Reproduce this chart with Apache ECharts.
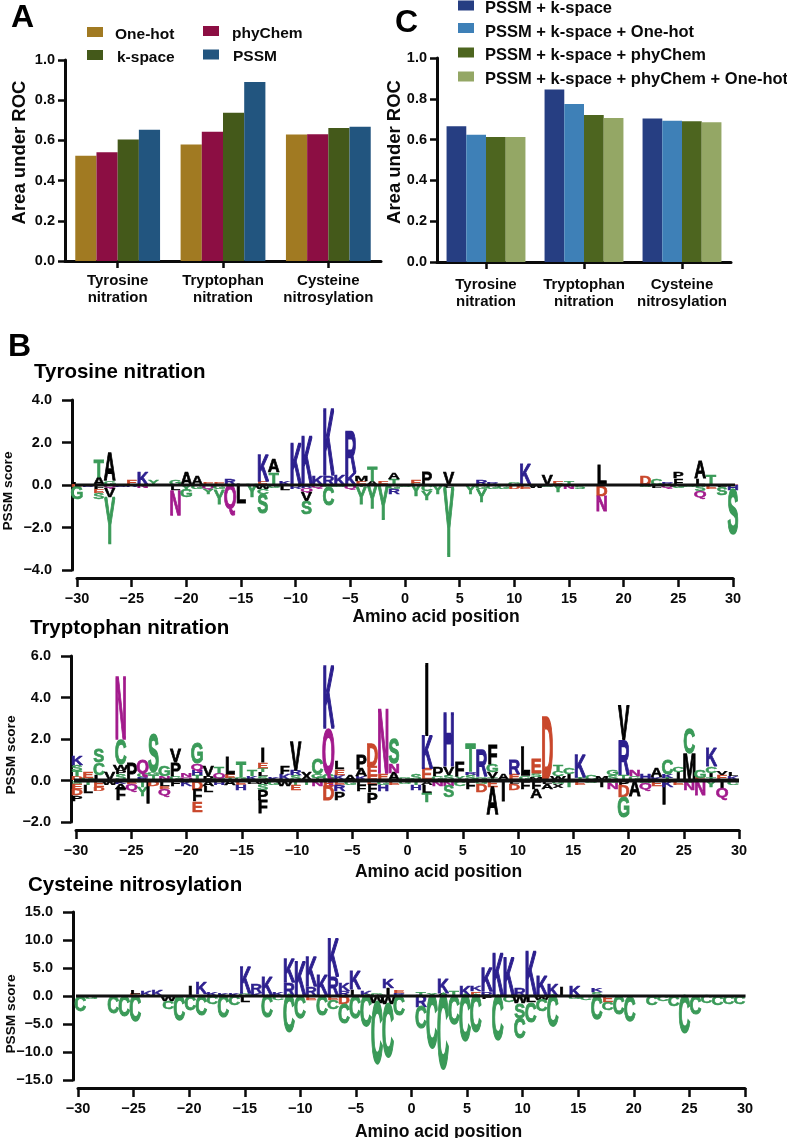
<!DOCTYPE html>
<html><head><meta charset="utf-8">
<style>html,body{margin:0;padding:0;background:#fff}#c{width:787px;height:1138px}</style>
<script src="https://cdn.jsdelivr.net/npm/echarts@6/dist/echarts.min.js"></script>
</head><body><div id="c"></div>
<script>
// ---------- Bar panels ----------
const rocCategories = ['Tyrosine\nnitration', 'Tryptophan\nnitration', 'Cysteine\nnitrosylation'];
const oneHot = [0.524, 0.579, 0.629];
const phyChem = [0.541, 0.643, 0.630];
const kSpace = [0.604, 0.738, 0.662];
const pssm = [0.653, 0.891, 0.668];
const pssmK = [0.665, 0.845, 0.704];
const pssmKOne = [0.624, 0.775, 0.693];
const pssmKPhy = [0.613, 0.720, 0.690];
const pssmKPhyOne = [0.613, 0.706, 0.685];

// ---------- Sequence logos: [position, letter, height in score units], listed outward from zero ----------
const tyrUp = [
[-30,'L',.1],[-29,'E',.07],[-28,'A',.35],[-28,'T',.78],[-27,'G',.2],[-27,'A',1.33],[-26,'E',.08],[-25,'E',.25],[-24,'K',.6],[-23,'Y',.25],[-22,'D',.05],
[-21,'G',.22],[-20,'A',.6],[-19,'A',.42],[-18,'E',.1],[-17,'E',.12],[-16,'R',.32],[-15,'E',.05],[-14,'R',.08],[-13,'E',.15],[-13,'K',1.25],[-12,'T',.58],[-12,'A',.62],
[-11,'K',.2],[-10,'K',1.95],[-9,'K',2.25],[-8,'K',.4],[-7,'R',.4],[-7,'K',3.1],[-6,'K',.5],[-5,'K',.55],[-5,'R',1.96],[-4,'E',.18],[-4,'M',.25],[-3,'A',.15],[-3,'T',.7],
[-2,'E',.2],[-1,'T',.28],[-1,'A',.3],[0,'E',.05],[1,'E',.22],[2,'P',.64],[4,'V',.6],[5,'E',.06],[6,'E',.06],[7,'R',.25],[8,'R',.12],[9,'G',.08],[10,'G',.1],
[11,'K',.97],[12,'G',.06],[13,'V',.52],[14,'E',.2],[15,'T',.15],[16,'E',.05],[18,'L',.92],[19,'E',.05],[20,'E',.05],[21,'G',.05],[22,'D',.42],[23,'C',.3],[24,'R',.1],
[25,'F',.3],[25,'P',.28],[27,'L',.3],[27,'A',.8],[28,'T',.48],[29,'E',.06],[30,'E',.05]];
const tyrDown = [
[-30,'D',.1],[-30,'G',.6],[-29,'R',.08],[-28,'F',.2],[-28,'E',.2],[-28,'S',.28],[-27,'Q',.15],[-27,'V',.45],[-27,'Y',2.2],[-26,'R',.08],[-25,'R',.1],[-24,'N',.15],
[-23,'G',.06],[-22,'G',.06],[-21,'L',.25],[-21,'N',1.18],[-20,'Y',.25],[-20,'G',.35],[-19,'G',.2],[-18,'Q',.2],[-18,'Y',.25],[-17,'G',.2],[-17,'Y',.7],[-16,'Q',1.1],
[-15,'L',.9],[-14,'Y',.6],[-13,'W',.2],[-13,'C',.25],[-13,'S',.9],[-12,'G',.15],[-11,'L',.22],[-10,'R',.2],[-9,'R',.15],[-9,'Q',.18],[-9,'V',.42],[-9,'S',.62],[-8,'Q',.15],
[-7,'G',.1],[-7,'C',.85],[-6,'G',.1],[-5,'Q',.2],[-4,'T',.12],[-4,'Y',.8],[-3,'Y',1.1],[-2,'Y',1.65],[-1,'G',.2],[-1,'R',.25],[0,'G',.1],[1,'Y',.55],[2,'C',.3],[2,'Y',.42],[3,'Y',.45],
[4,'L',.15],[4,'Y',3.25],[5,'E',.06],[6,'Y',.45],[7,'G',.2],[7,'Y',.62],[8,'G',.2],[9,'G',.2],[10,'D',.2],[11,'E',.2],[12,'W',.15],[13,'G',.1],[14,'Y',.35],[15,'N',.2],[16,'S',.2],
[17,'G',.05],[18,'D',.52],[18,'N',.75],[19,'E',.05],[20,'E',.05],[21,'G',.06],[22,'G',.1],[23,'L',.15],[24,'Q',.15],[25,'G',.15],[26,'G',.1],[27,'S',.3],[27,'Q',.28],[28,'E',.2],
[29,'L',.1],[29,'S',.38],[30,'H',.22],[30,'S',2.1]];

// Small letters nearest the zero line under the tall Tryptophan columns
const trpBaseUp = [[-26,'S',.3],[-7,'G',.3],[20,'T',.25],[4,'S',.25],[-19,'T',.25],[-23,'T',.25],[-10,'S',.25],[-13,'S',.2],[-21,'G',.2],[-16,'T',.1],[-8,'T',.1],[6,'S',.25],[8,'T',.1],[11,'G',.2],[16,'T',.15],[24,'T',.1],[28,'T',.15]];
const trpUp = [
[-30,'D',.2],[-30,'T',.25],[-30,'S',.3],[-30,'K',.45],[-29,'G',.12],[-29,'E',.33],[-28,'L',.25],[-28,'C',.6],[-28,'S',.65],[-27,'V',.38],[-26,'P',.2],[-26,'W',.25],[-26,'C',1.2],[-26,'N',3],
[-25,'P',.8],[-24,'R',.15],[-24,'C',.2],[-24,'Q',.65],[-23,'G',.15],[-23,'S',1.8],[-22,'N',.2],[-22,'G',.5],[-21,'P',.65],[-21,'V',.65],[-20,'Q',.15],[-20,'N',.2],[-19,'H',.25],[-19,'Q',.3],[-19,'G',1],
[-18,'P',.2],[-18,'V',.48],[-17,'G',.12],[-17,'Q',.25],[-17,'T',.3],[-16,'E',.2],[-16,'L',.8],[-15,'G',.15],[-15,'T',.75],[-14,'K',.2],[-14,'T',.3],[-13,'L',.2],[-13,'T',.2],[-13,'E',.28],[-13,'I',.72],
[-12,'K',.15],[-11,'K',.3],[-11,'F',.35],[-10,'R',.22],[-10,'V',1.37],[-9,'X',.4],[-8,'G',.2],[-8,'C',.78],[-7,'Q',2.15],[-7,'K',3],[-6,'K',.25],[-6,'E',.28],[-6,'L',.38],[-5,'A',.25],[-4,'K',.2],[-4,'A',.35],[-4,'P',.7],
[-3,'E',.2],[-3,'E',.48],[-3,'D',1.1],[-2,'E',.3],[-2,'N',3.05],[-1,'A',.35],[-1,'N',.45],[-1,'S',1.2],[0,'G',.12],[1,'S',.3],[2,'E',.55],[2,'K',1.57],[2,'I',3.45],
[3,'G',.2],[3,'P',.43],[4,'V',.4],[4,'H',2.57],[5,'Y',.2],[5,'F',.7],[6,'R',.15],[6,'T',1.33],[7,'G',.15],[7,'R',1.25],[8,'V',.3],[8,'G',.35],[8,'F',.96],[9,'A',.3],[10,'E',.3],[10,'R',.7],[11,'L',1.38],
[12,'M',.15],[12,'S',.2],[12,'E',.67],[13,'D',3],[14,'W',.2],[14,'C',.25],[14,'T',.3],[15,'I',.3],[15,'C',.3],[16,'K',1.1],[17,'C',.25],[18,'M',.2],[19,'S',.25],[19,'G',.25],[20,'R',1.68],[20,'V',1.65],
[21,'G',.2],[21,'N',.32],[22,'H',.3],[23,'K',.15],[23,'A',.43],[24,'K',.2],[24,'C',.72],[25,'I',.4],[25,'C',.27],[26,'M',1.3],[26,'C',1.23],[27,'E',.12],[27,'G',.37],[28,'I',.2],[28,'C',.3],[28,'K',.88],
[29,'E',.25],[29,'V',.2],[30,'K',.2],[30,'L',.2]];
const trpDown = [
[-30,'S',.15],[-30,'E',.25],[-30,'D',.3],[-30,'P',.28],[-29,'T',.2],[-29,'L',.4],[-28,'E',.3],[-28,'D',.2],[-27,'W',.2],[-26,'K',.15],[-26,'A',.27],[-26,'F',.55],[-25,'E',.15],[-25,'Q',.3],
[-24,'T',.3],[-24,'Y',.45],[-23.5,'I',1.1],[-23,'D',.27],[-22,'L',.25],[-22,'E',.15],[-22,'Q',.3],[-21,'F',.27],[-20,'K',.27],[-19,'D',.45],[-19,'F',.55],[-19,'E',.53],[-18,'A',.27],[-18,'L',.3],
[-17,'H',.2],[-16,'A',.22],[-15,'E',.2],[-15,'H',.27],[-14,'L',.15],[-13,'W',.15],[-13,'S',.3],[-13,'P',.5],[-13,'F',.65],[-12,'G',.2],[-11,'W',.27],[-10,'T',.2],[-10,'E',.25],[-9,'T',.2],[-8,'N',.25],
[-7,'E',.27],[-7,'D',.7],[-6,'E',.2],[-6,'R',.33],[-6,'P',.4],[-5,'G',.2],[-4,'L',.2],[-4,'F',.3],[-3,'E',.2],[-3,'F',.35],[-3,'P',.53],[-2,'G',.2],[-2,'H',.3],[-1,'E',.2],[0,'G',.15],
[1,'T',.2],[1,'H',.27],[2,'A',.2],[2,'L',.4],[2,'T',.43],[3,'N',.27],[4,'N',.25],[4,'S',.55],[5,'C',.28],[6,'F',.4],[7,'G',.15],[7,'D',.4],[8,'E',.3],[8,'A',1.35],[9,'I',1],[10,'L',.15],[10,'D',.32],
[11,'F',.4],[12,'F',.4],[12,'A',.45],[13,'L',.15],[13,'A',.27],[14,'G',.15],[14,'X',.2],[15,'T',.3],[16,'E',.2],[17,'G',.12],[18,'I',.3],[19,'G',.12],[19,'N',.3],[20,'P',.25],[20,'D',.55],[20,'G',1],
[21,'A',.78],[22,'G',.12],[22,'Q',.3],[23,'E',.25],[23.7,'I',1.15],[24,'K',.3],[25,'E',.2],[26,'S',.12],[26,'N',.35],[27,'N',.72],[28,'Y',.3],[29,'I',.4],[29,'Q',.43],[30,'C',.2]];

const cysUp = [
[-25,'E',.4],[-25,'L',.7],[-24,'K',1],[-23,'K',1.2],[-22,'R',.3],[-20,'I',1.9],[-19,'G',.3],[-19,'K',2],[-18,'K',.7],[-17,'K',.5],[-16,'K',.5],[-15,'G',.4],[-15,'K',4.8],[-14,'K',.5],[-14,'R',1.6],[-13,'K',3.3],
[-12,'K',.7],[-11,'R',2.4],[-11,'K',4.2],[-10,'K',6.1],[-9,'R',1.6],[-9,'K',5.5],[-8,'K',3.7],[-7,'R',3.4],[-7,'K',6.8],[-6,'R',.9],[-6,'K',1.4],[-5,'L',1.1],[-5,'K',3.4],[-4,'K',.9],[-3,'G',.4],[-2,'I',1.4],[-2,'K',1.7],[-1,'R',.5],[-1,'E',.5],
[1,'T',.8],[2,'Y',.5],[3,'A',.5],[3,'K',2.5],[4,'T',1],[5,'K',1.8],[6,'E',.8],[6,'K',.9],[7,'R',.7],[7,'K',4.3],[8,'K',7.5],[9,'K',6.8],[10,'R',1.3],[11,'K',7.8],[12,'K',3.5],[13,'K',2],[13.8,'I',1.6],
[15,'K',1.9],[17,'S',.7],[17,'K',.8],[18,'E',.3],[28,'R',.3]];
const cysDown = [
[-30,'C',2.8],[-29,'G',.5],[-27,'C',3.1],[-26,'C',3.7],[-25,'C',4.7],[-22,'W',.9],[-22,'C',1.5],[-21,'C',4.4],[-20,'C',2.5],[-19,'C',3.5],[-18,'C',1.5],[-17,'C',3.9],[-16,'C',1.6],[-15,'L',1.2],
[-13,'C',3.9],[-12,'C',.8],[-11,'C',6.5],[-10,'C',4.1],[-9,'E',.8],[-8,'C',3.6],[-7,'E',.8],[-7,'C',1.6],[-6,'D',1.5],[-6,'C',3.5],[-5,'C',4],[-4,'C',5.6],[-3,'W',1.3],[-3,'C',10.8],[-2,'W',1.5],[-2,'C',9.5],[-1,'C',3.6],
[1,'R',2],[1,'C',3.9],[2,'C',9.4],[3,'C',13.2],[4,'C',5.2],[5,'C',8.2],[6,'C',6.5],[7,'F',.6],[8,'C',8],[9,'C',1.1],[10,'W',1.3],[10,'S',2.7],[10,'C',3.7],[11,'L',1.1],[11,'C',3.6],[12,'W',.8],[12,'C',2],[13,'C',5.6],
[15,'G',.5],[16,'C',.8],[17,'C',4.2],[18,'E',1.1],[18,'C',1.5],[19,'C',3.3],[20,'C',4.6],[22,'C',1.7],[23,'C',1],[24,'C',1.9],[25,'C',6.6],[26,'C',3.3],[27,'C',1.3],[28,'C',1.7],[29,'C',1.5],[30,'C',1.5]];

// Zero lines run slightly past the x axis ends
const zeroTyr = [[-30.45,0],[30.55,0]];
const zeroTrp = [[-30.37,0],[30.55,0]];
const zeroCys = [[-30.75,0],[30.55,0]];

const FONT = '"Liberation Sans", Arial, sans-serif';
const INK = '#0a0a0a';
const letterColor = l => 'KRH'.includes(l) ? '#2c1f8e' : 'DE'.includes(l) ? '#c9472b' : 'NQ'.includes(l) ? '#a21a8c' : 'GSTYC'.includes(l) ? '#3a9a58' : '#000';

function stackRows(items, sign) {
  const tops = {}, rows = [];
  items.forEach(([p, l, h]) => {
    const a = tops[p] || 0, b = a + h;
    tops[p] = b;
    rows.push({ value: [p, sign * a, sign * b], letter: l });
  });
  return rows;
}
const GLYPH_PX = 100, CAP = 0.716, X_SCALE = 0.165, Y_NUDGE = 0.08;
function logoSeries(name, up, down, xi, yi, zero, zeroWidth) {
  const make = (arr, sign, suffix) => {
    const rows = stackRows(arr, sign);
    return {
      type: 'custom', name: name + suffix, xAxisIndex: xi, yAxisIndex: yi, z: 2, silent: true,
      encode: { x: 0, y: [1, 2] }, data: rows,
      renderItem(params, api) {
        const a = api.coord([api.value(0), api.value(1)]);
        const b = api.coord([api.value(0), api.value(2)]);
        const h = Math.abs(b[1] - a[1]);
        const letter = rows[params.dataIndex].letter;
        const col = letterColor(letter);
        return {
          type: 'text', x: a[0], y: (a[1] + b[1]) / 2 + h * Y_NUDGE,
          scaleX: X_SCALE, scaleY: h / (GLYPH_PX * CAP),
          style: { text: letter, font: 'bold ' + GLYPH_PX + 'px ' + FONT, fill: col, stroke: col, lineWidth: 4, align: 'center', verticalAlign: 'middle' }
        };
      }
    };
  };
  return [make(up, 1, ' up'), make(down, -1, ' down'),
    { type: 'line', name: name + ' zero', xAxisIndex: xi, yAxisIndex: yi, z: 3, clip: false, silent: true, symbol: 'none', data: zero, lineStyle: { color: '#111', width: zeroWidth } }];
}
const minus = v => String(v).replace('-', '\u2212');
const axisStyle = { lineStyle: { color: INK, width: 3 } };
const tickStyle = (len) => ({ show: true, length: len, lineStyle: { color: INK, width: 2.5 } });
const lbl = (size, extra) => Object.assign({ color: INK, fontFamily: FONT, fontWeight: 'bold', fontSize: size }, extra || {});

function barX(grid, margin) {
  return { type: 'category', gridIndex: grid, data: rocCategories, axisLine: Object.assign({ onZero: false }, axisStyle), axisTick: Object.assign(tickStyle(7), { alignWithLabel: true }),
    axisLabel: lbl(15, { lineHeight: 16.5, margin, interval: 0 }) };
}
function barY(grid, gap) {
  return { type: 'value', gridIndex: grid, min: 0, max: 1, interval: 0.2, splitLine: { show: false }, axisLine: Object.assign({ show: true, onZero: false }, axisStyle), axisTick: tickStyle(7),
    axisLabel: lbl(14.5, { margin: 10, formatter: v => v.toFixed(1) }),
    name: 'Area under ROC', nameLocation: 'middle', nameGap: gap, nameMoveOverlap: false, nameTextStyle: lbl(18.5, { padding: [0, 0, 0, 16] }) };
}
function logoX(grid, nameShift, gap) {
  return { type: 'value', gridIndex: grid, min: -30, max: 30, interval: 5, offset: 8, splitLine: { show: false }, axisLine: Object.assign({ onZero: false }, axisStyle), axisTick: tickStyle(9),
    axisLabel: lbl(14.5, { margin: 13, formatter: minus, showMinLabel: true, showMaxLabel: true }),
    name: 'Amino acid position', nameLocation: 'middle', nameGap: gap, nameMoveOverlap: false, nameTextStyle: lbl(17.5, { padding: [0, 0, 0, nameShift] }) };
}
function logoHidden(grid, min, max) {
  return { type: 'value', gridIndex: grid, min, max, show: false, splitLine: { show: false } };
}
function logoY(grid, min, max, interval, shift, gap) {
  return { type: 'value', gridIndex: grid, min, max, interval, offset: 5, splitLine: { show: false }, axisLine: Object.assign({ show: true, onZero: false }, axisStyle), axisTick: tickStyle(10),
    axisLabel: lbl(14.5, { margin: 20, formatter: v => minus(v.toFixed(1)), showMinLabel: true, showMaxLabel: true }),
    name: 'PSSM score', nameLocation: 'middle', nameGap: gap, nameMoveOverlap: false, nameTextStyle: lbl(13.7, { padding: shift }) };
}
function bar(name, data, color, xi, yi) {
  return { type: 'bar', name, data, xAxisIndex: xi, yAxisIndex: yi, barGap: 0, barCategoryGap: '19.5%', itemStyle: { color }, silent: true };
}
function leg(name, left, top, size, pad, topPad) {
  return { data: [name], left, top, orient: 'horizontal', padding: 0, itemWidth: 16, itemHeight: 10, icon: 'rect', selectedMode: false,
    formatter: '{a|{name}}', textStyle: lbl(size, { rich: { a: lbl(size, { padding: [topPad, 0, 0, pad] }) } }) };
}
function ttl(text, left, top, size) {
  return { text, left, top, padding: 0, textStyle: lbl(size, { color: '#000' }) };
}
const gridBox = (left, top, width, height) => ({ left, top, width, height, containLabel: false, outerBoundsMode: 'none' });

const option = {
  backgroundColor: '#fff', animation: false,
  title: [
    ttl('A', 11, 2, 32), ttl('C', 395, 7, 32), ttl('B', 8, 331, 32),
    ttl('Tyrosine nitration', 34, 362, 20.5), ttl('Tryptophan nitration', 30, 618, 20.5), ttl('Cysteine nitrosylation', 28, 875, 20.5)
  ],
  legend: [
    leg('One-hot', 87, 27, 15.5, 7, 6), leg('phyChem', 203, 26, 15.5, 8, 6), leg('k-space', 87, 50, 15.5, 9, 6), leg('PSSM', 203, 49, 15.5, 9, 5),
    leg('PSSM + k-space', 458, 0, 16.5, 6, 6), leg('PSSM + k-space + One-hot', 458, 23, 16.5, 6, 8), leg('PSSM + k-space + phyChem', 458, 47, 16.5, 6, 6), leg('PSSM + k-space + phyChem + One-hot', 458, 71, 16.5, 6, 6)
  ],
  grid: [
    gridBox(65, 60, 316, 201),
    gridBox(437, 58, 294, 204),
    gridBox(77, 400, 656, 170),
    gridBox(76, 656, 663, 166),
    gridBox(78, 912, 667, 168)
  ],
  xAxis: [
    barX(0, 12), barX(1, 15),
    logoX(2, 62, 30), logoHidden(2, -30, 30),
    logoX(3, 62, 33), logoHidden(3, -30.09, 30.55),
    logoX(4, 54, 35), logoHidden(4, -30.21, 30.5)
  ],
  yAxis: [
    barY(0, 36), barY(1, 33),
    logoY(2, -4, 4, 2, [0, 12, 0, 0], 57),
    logoY(3, -2, 6, 2, [0, 32, 0, 0], 53),
    logoY(4, -15, 15, 5, [0, 36, 0, 0], 55)
  ],
  series: [
    bar('One-hot', oneHot, '#a17a22', 0, 0), bar('phyChem', phyChem, '#8c0e43', 0, 0), bar('k-space', kSpace, '#44591a', 0, 0), bar('PSSM', pssm, '#22557f', 0, 0),
    bar('PSSM + k-space', pssmK, '#263e82', 1, 1), bar('PSSM + k-space + One-hot', pssmKOne, '#3e80b7', 1, 1), bar('PSSM + k-space + phyChem', pssmKPhy, '#4d651f', 1, 1), bar('PSSM + k-space + phyChem + One-hot', pssmKPhyOne, '#94a765', 1, 1),
    ...logoSeries('Tyrosine', tyrUp, tyrDown, 3, 2, zeroTyr, 3),
    ...logoSeries('Tryptophan', trpBaseUp.concat(trpUp), trpDown, 5, 3, zeroTrp, 4),
    ...logoSeries('Cysteine', cysUp, cysDown, 7, 4, zeroCys, 3)
  ]
};
const chart = echarts.init(document.getElementById('c'), null, { renderer: 'canvas', width: 787, height: 1138 });
chart.setOption(option);
</script></body></html>
